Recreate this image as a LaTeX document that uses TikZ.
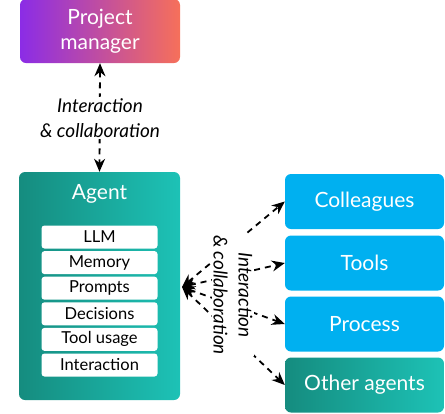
\documentclass[tikz,border=0pt]{standalone}
\usepackage{fontspec}
\setmainfont{Lato}
\usetikzlibrary{arrows.meta}
\definecolor{pmL}{HTML}{8B2CE6}
\definecolor{pmR}{HTML}{F6705A}
\definecolor{agL}{HTML}{158C7F}
\definecolor{agR}{HTML}{1DC2B6}
\definecolor{blu}{HTML}{00B0F0}
\tikzset{
  box/.style={rounded corners=6pt, text=white, inner sep=0pt, align=center},
  inbox/.style={fill=white, rounded corners=3pt, minimum width=116pt, minimum height=23pt, inner sep=0pt, font=\fontsize{16.5}{18}\selectfont},
  rbox/.style={box, fill=blu, minimum width=159pt, minimum height=55pt, font=\fontsize{21}{24}\selectfont},
  conn/.style={dashed, dash pattern=on 6pt off 5pt, line width=1.8pt, {Stealth[length=13pt,width=11pt]}-{Stealth[length=13pt,width=11pt]}},
  lbl/.style={fill=white, inner sep=1pt, align=center, font=\itshape\fontsize{19}{25}\selectfont}
}
\begin{document}
\begin{tikzpicture}[x=1pt,y=-1pt]
\useasboundingbox (0,0) rectangle (445,413);
\node[box, left color=pmL, right color=pmR, minimum width=160pt, minimum height=64pt, font=\fontsize{21}{25}\selectfont] (pm) at (100,31) {Project\\manager};
\node[box, left color=agL, right color=agR, minimum width=161pt, minimum height=228pt] (agent) at (99.5,286) {};
\node[text=white, font=\fontsize{21}{24}\selectfont] (agt) at (99.5,194) {Agent};
\foreach \t [count=\i from 0] in {LLM,Memory,Prompts,Decisions,Tool usage,Interaction}{
  \node[inbox] (in\i) at (99.5,237+25.6*\i) {\t};
}
\node[rbox] (col) at (364.5,201.5) {Colleagues};
\node[rbox] (tools) at (364.5,263) {Tools};
\node[rbox] (proc) at (364.5,324) {Process};
\node[rbox, fill=none, left color=agL, right color=agR] (oth) at (364.5,385) {Other agents};
\coordinate (fan) at (182,287);
\draw[conn] (pm.south) -- (agent.north);
\node[lbl] (vl) at (100,118) {Interaction\\\& collaboration};
\foreach \b in {col,tools,proc,oth}{
  \draw[conn] (fan) -- (\b.west);
}
\node[lbl, rotate=-90] (hl) at (233,295) {Interaction\\\& collaboration};
\end{tikzpicture}
\end{document}
